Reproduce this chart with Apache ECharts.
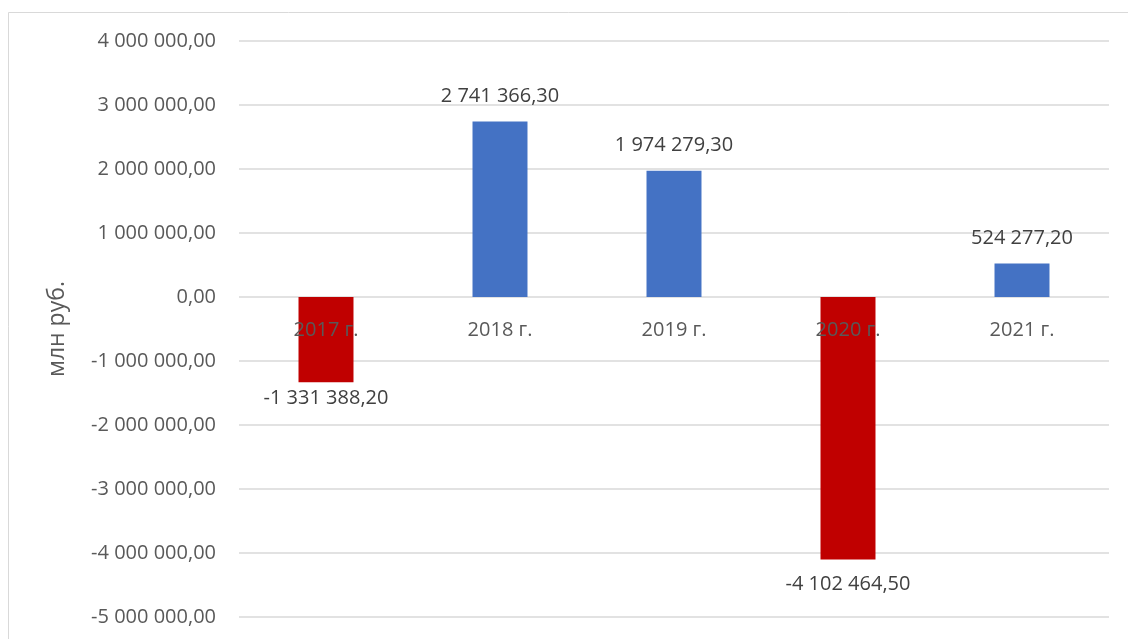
<!DOCTYPE html>
<html>
<head>
<meta charset="utf-8">
<script src="https://cdn.jsdelivr.net/npm/echarts@6/dist/echarts.min.js"></script>
<style>
  html, body { margin: 0; padding: 0; background: #fff; }
  #chart { width: 1128px; height: 639px; }
</style>
</head>
<body>
<div id="chart"></div>
<script>
// Annual result, млн руб.
const years = ['2017 г.', '2018 г.', '2019 г.', '2020 г.', '2021 г.'];
const values = [-1331388.20, 2741366.30, 1974279.30, -4102464.50, 524277.20];
const axisMin = -5000000;
const axisMax = 4000000;
const axisStep = 1000000;

const POS_COLOR = '#4472C4';
const NEG_COLOR = '#C00000';
const FONT = '"Open Sans", "Noto Sans", sans-serif';
const FS = 20;

const GRID_TOP = 41;
const GRID_BOTTOM = 22;
const PLOT_H = 639 - GRID_TOP - GRID_BOTTOM;

// "1 234 567,89" style formatting
function fmt(v) {
  const neg = v < 0;
  const parts = Math.abs(v).toFixed(2).split('.');
  const int = parts[0].replace(/\B(?=(\d{3})+(?!\d))/g, ' ');
  return (neg ? '-' : '') + int + ',' + parts[1];
}

// category axis sits on the zero line: shift it up from the bottom edge
const zeroOffset = -PLOT_H * (0 - axisMin) / (axisMax - axisMin);

const chart = echarts.init(document.getElementById('chart'));
chart.setOption({
  animation: false,
  backgroundColor: '#fff',
  graphic: [{
    type: 'rect',
    shape: { x: 8.5, y: 12.5, width: 1200, height: 700 },
    style: { fill: 'none', stroke: '#d9d9d9', lineWidth: 1 },
    silent: true
  }],
  grid: {
    left: 239, right: 19, top: GRID_TOP, bottom: GRID_BOTTOM,
    containLabel: false, outerBoundsMode: 'none'
  },
  xAxis: {
    type: 'category',
    data: years,
    offset: zeroOffset,
    axisLine: { show: false, onZero: false },
    axisTick: { show: false },
    axisLabel: { color: '#595959', fontFamily: FONT, fontSize: FS, margin: 23 },
    z: 10
  },
  yAxis: {
    type: 'value',
    min: axisMin,
    max: axisMax,
    interval: axisStep,
    name: 'млн руб.',
    nameLocation: 'middle',
    nameGap: 170,
    nameTextStyle: { color: '#595959', fontFamily: FONT, fontSize: 23 },
    axisLine: { show: false },
    axisTick: { show: false },
    splitLine: { lineStyle: { color: '#d9d9d9', width: 1.5 } },
    axisLabel: {
      color: '#595959', fontFamily: FONT, fontSize: FS, margin: 23,
      formatter: v => fmt(v)
    }
  },
  series: [{
    type: 'bar',
    barWidth: '31.6%',
    data: values.map((v, i) => ({
      value: v,
      itemStyle: { color: v < 0 ? NEG_COLOR : POS_COLOR },
      label: { position: v < 0 ? 'bottom' : 'top', distance: i === 0 ? 6 : 15 }
    })),
    label: {
      show: true,
      color: '#404040',
      fontFamily: FONT,
      fontSize: FS,
      formatter: p => fmt(p.value)
    },
    z: 2
  }]
});
</script>
</body>
</html>
